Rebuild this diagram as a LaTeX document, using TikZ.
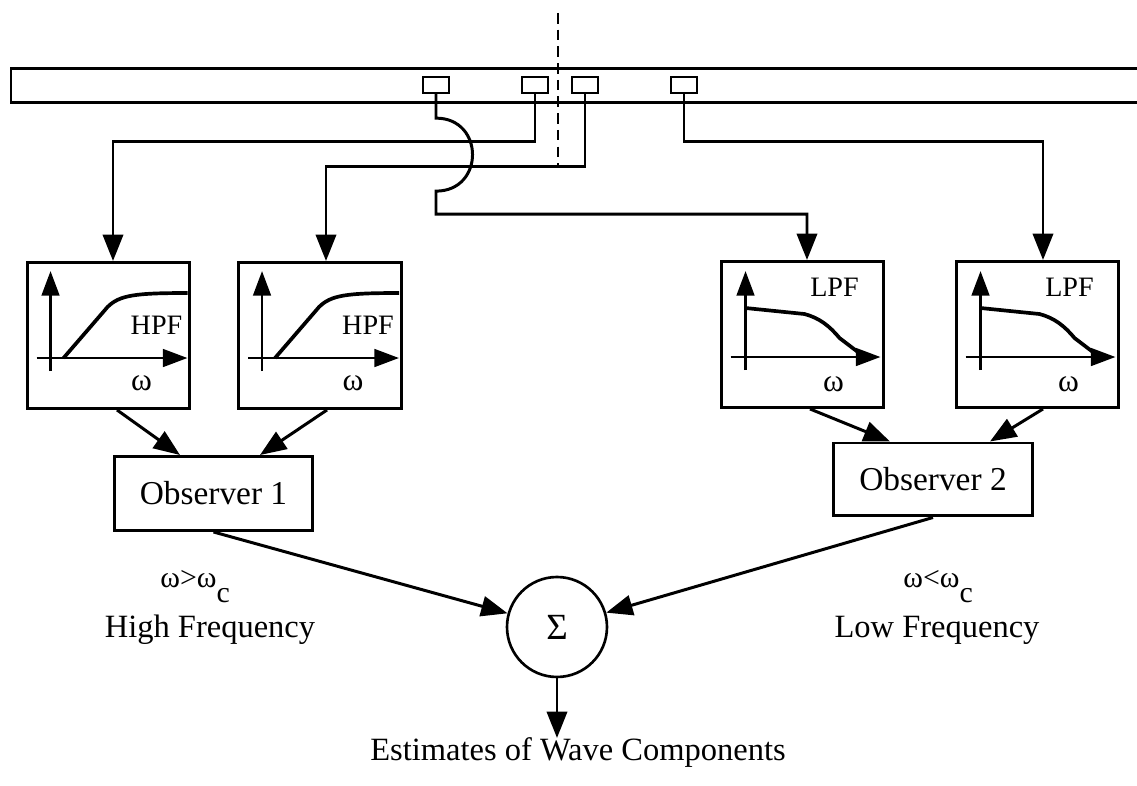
\documentclass[tikz,border=0pt]{standalone}
\usepackage{fontspec}
\setmainfont{Liberation Serif}
\usetikzlibrary{arrows.meta}
\tikzset{
 fbox/.style={draw, line width=1.7pt, minimum width=3.26cm, minimum height=2.92cm, inner sep=0pt},
 obsbox/.style={draw, line width=1.7pt, minimum width=3.98cm, minimum height=1.48cm, font=\fontsize{19}{21}\selectfont},
 sensor/.style={draw, line width=1.3pt, minimum width=0.52cm, minimum height=0.32cm, inner sep=0pt},
 wire/.style={line width=1.7pt, -{Triangle[length=15pt,width=11.5pt]}},
 axis/.style={line width=1.6pt, -{Triangle[length=14pt,width=10pt]}},
 resp/.style={line width=2.1pt, line join=round},
 lbl/.style={font=\fontsize{18.5}{20}\selectfont, inner sep=0pt},
 small/.style={font=\fontsize{16}{18}\selectfont, inner sep=0pt},
}
\begin{document}
\begin{tikzpicture}[x=0.02cm,y=-0.02cm]
\useasboundingbox (0,0) rectangle (1137,786);
% beam
\draw[line width=1.7pt] (1140,69) -- (11,69) -- (11,103) -- (1140,103);
% dashed section line
\draw[line width=1.7pt, dash pattern=on 6pt off 3.5pt] (558,13) -- (558,165);
% sensors
\node[sensor] (s1) at (436,85) {};
\node[sensor] (s2) at (535,85) {};
\node[sensor] (s3) at (585,85) {};
\node[sensor] (s4) at (684,85) {};
% filter boxes
\node[fbox] (hpf1) at (108.5,335.5) {};
\node[fbox] (hpf2) at (320,335.5) {};
\node[fbox] (lpf1) at (802.5,334.5) {};
\node[fbox] (lpf2) at (1037.5,334.5) {};
% high-pass graphs
\foreach \b in {hpf1,hpf2}{
 \begin{scope}[shift={(\b.north west)}]
  \draw[axis] (25,110) -- (25,10);
  \draw[axis] (11,97) -- (162,97);
  \draw[resp] (38,97) -- (82,46) .. controls (94,34) and (110,32) .. (162,32);
  \node[small] (\b-t) at (131,64) {HPF};
  \node[small, font=\fontsize{18}{20}\selectfont] (\b-w) at (116,122) {ω};
 \end{scope}
}
% low-pass graphs
\foreach \b in {lpf1,lpf2}{
 \begin{scope}[shift={(\b.north west)}]
  \draw[axis] (26,110) -- (26,11);
  \draw[axis] (11,97) -- (161,97);
  \draw[resp] (26,48) -- (85,54) .. controls (100,58) and (110,66) .. (120,78) -- (141,94) -- (152,97);
  \node[small] (\b-t) at (115,27) {LPF};
  \node[small, font=\fontsize{18}{20}\selectfont] (\b-w) at (114,124) {ω};
 \end{scope}
}
% wires from sensors
\draw[wire] (s1.south) -- ++(0,24) .. controls +(48.7,0) and +(48.7,0) .. ++(0,73) -- ++(0,23) -| ([xshift=0.09cm]lpf1.north);
\draw[wire] (s2.south) -- ++(0,47) -| ([xshift=0.09cm]hpf1.north);
\draw[wire] (s3.south) -- ++(0,72) -| ([xshift=0.12cm]hpf2.north);
\draw[wire] (s4.south) -- ++(0,47) -| ([xshift=0.11cm]lpf2.north);
% observers
\node[obsbox] (obs1) at (213.5,493.5) {Observer 1};
\node[obsbox, minimum width=4.0cm, minimum height=1.46cm] (obs2) at (933,479.5) {Observer 2};
\draw[wire] ([xshift=0.17cm]hpf1.south) -- ([xshift=-0.67cm]obs1.north);
\draw[wire] ([xshift=0.14cm]hpf2.south) -- ([xshift=0.93cm]obs1.north);
\draw[wire] ([xshift=0.15cm]lpf1.south) -- ([xshift=-0.86cm]obs2.north);
\draw[wire] ([xshift=0.11cm]lpf2.south) -- ([xshift=1.14cm]obs2.north);
% summation
\node[draw, circle, line width=1.5pt, minimum size=2cm, inner sep=0pt, font=\fontsize{21}{21}\selectfont] (sig) at (557,627) {Σ};
\draw[wire] (obs1.south) -- (sig);
\draw[wire] (obs2.south) -- (sig);
\coordinate (outp) at (557,738);
\draw[wire] (sig.south) -- (outp);
% labels
\node[small, font=\fontsize{17}{19}\selectfont, anchor=base west] (hic) at (160,588) {ω>ω\raisebox{-0.5em}{c}};
\node[small, font=\fontsize{17}{19}\selectfont, anchor=base west] (loc) at (903,588) {ω<ω\raisebox{-0.5em}{c}};
\node[lbl] (hf) at (210,630) {High Frequency};
\node[lbl] (lf) at (937,630) {Low Frequency};
\node[lbl] (est) at (578,753) {Estimates of Wave Components};
\end{tikzpicture}
\end{document}
